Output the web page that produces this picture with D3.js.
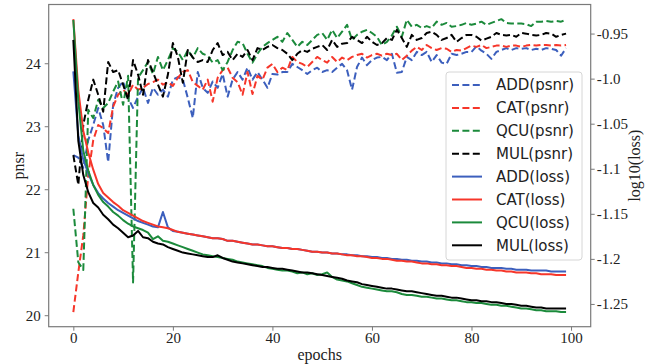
<!DOCTYPE html>
<html>
<head>
<meta charset="utf-8">
<script src="https://cdn.jsdelivr.net/npm/d3@7"></script>
<style>
  body { margin: 0; background: #fff; }
  svg { display: block; }
</style>
</head>
<body>
<div id="chart"></div>
<script>
// psnr per epoch (left axis)
const addPsnr = [22.54, 22.50, 22.34, 22.78, 23.02, 23.29, 23.02, 22.43, 23.34, 23.61,
  23.71, 23.45, 23.29, 23.47, 23.61, 23.37, 23.61, 23.50, 23.58, 23.47,
  23.74, 23.78, 23.74, 23.45, 23.13, 23.86, 23.61, 23.53, 23.71, 23.61,
  23.83, 23.47, 23.74, 23.86, 23.74, 23.93, 23.74, 23.86, 23.74, 23.61,
  23.83, 23.82, 23.86, 23.86, 23.99, 23.94, 23.89, 23.83, 23.89, 23.93,
  23.86, 23.89, 23.86, 23.93, 23.99, 23.89, 23.58, 23.94, 24.09, 23.97,
  24.05, 24.09, 24.10, 24.05, 24.15, 23.85, 23.86, 24.10, 24.05, 24.18,
  24.13, 24.18, 24.02, 24.13, 24.01, 23.99, 24.15, 24.13, 24.15, 24.18,
  24.18, 24.27, 24.20, 24.15, 24.07, 24.18, 24.21, 24.24, 24.21, 24.24,
  24.23, 24.24, 24.21, 24.23, 24.21, 24.24, 24.23, 24.21, 24.12, 24.24];
const catPsnr = [20.05, 20.68, 21.27, 22.23, 22.78, 23.02, 22.97, 22.89, 23.31, 23.50,
  23.58, 23.50, 23.66, 23.58, 23.61, 23.67, 23.70, 23.74, 23.66, 23.70,
  23.64, 23.77, 23.86, 23.89, 23.70, 23.64, 23.58, 23.74, 23.39, 23.77,
  23.89, 23.93, 23.77, 23.70, 23.50, 23.86, 23.51, 23.80, 23.74, 23.93,
  23.99, 23.86, 23.93, 23.89, 24.10, 24.02, 23.99, 23.94, 24.02, 24.10,
  24.05, 24.01, 24.10, 24.02, 24.09, 24.05, 24.10, 24.13, 24.15, 24.09,
  24.13, 24.15, 24.12, 24.15, 24.13, 24.15, 24.05, 24.12, 24.20, 24.26,
  24.21, 24.29, 24.24, 24.21, 24.24, 24.23, 24.18, 24.21, 24.20, 24.24,
  24.28, 24.26, 24.29, 24.24, 24.26, 24.28, 24.28, 24.26, 24.28, 24.28,
  24.26, 24.28, 24.29, 24.28, 24.29, 24.29, 24.28, 24.29, 24.28, 24.29];
const qcuPsnr = [21.69, 20.84, 20.72, 23.26, 23.13, 23.42, 23.29, 23.37, 23.55, 23.71,
  23.34, 23.80, 20.52, 23.77, 23.89, 24.02, 23.83, 24.10, 23.89, 24.05,
  24.24, 24.18, 24.05, 24.21, 24.09, 24.24, 24.15, 24.12, 24.01, 24.05,
  23.89, 24.02, 24.21, 24.34, 24.32, 24.15, 24.01, 24.15, 24.26, 24.32,
  24.37, 24.42, 24.34, 24.48, 24.37, 24.26, 24.34, 24.29, 24.37, 24.45,
  24.48, 24.37, 24.53, 24.40, 24.50, 24.61, 24.37, 24.45, 24.50, 24.53,
  24.48, 24.42, 24.29, 24.34, 24.44, 24.58, 24.42, 24.69, 24.58, 24.61,
  24.56, 24.59, 24.56, 24.66, 24.61, 24.64, 24.58, 24.59, 24.61, 24.64,
  24.61, 24.63, 24.66, 24.61, 24.64, 24.67, 24.70, 24.64, 24.63, 24.63,
  24.63, 24.62, 24.59, 24.66, 24.66, 24.67, 24.66, 24.67, 24.66, 24.69];
const mulPsnr = [22.54, 22.07, 23.02, 23.42, 23.74, 23.50, 23.23, 24.02, 23.86, 23.89,
  23.66, 23.42, 24.05, 23.82, 23.50, 24.05, 23.86, 23.66, 23.47, 23.82,
  24.32, 24.10, 23.69, 24.21, 24.09, 24.02, 24.05, 24.02, 24.21, 24.32,
  24.13, 24.18, 24.05, 24.15, 24.10, 24.21, 24.05, 24.24, 24.21, 24.26,
  24.29, 24.24, 24.21, 24.15, 24.05, 24.15, 24.21, 24.18, 24.23, 24.26,
  24.29, 24.21, 24.37, 24.26, 24.31, 24.32, 24.42, 24.37, 24.32, 24.42,
  24.34, 24.29, 24.32, 24.40, 24.37, 24.53, 24.40, 24.26, 24.45, 24.37,
  24.40, 24.48, 24.50, 24.45, 24.37, 24.40, 24.45, 24.34, 24.40, 24.45,
  24.45, 24.42, 24.36, 24.39, 24.42, 24.48, 24.45, 24.44, 24.45, 24.42,
  24.48, 24.47, 24.45, 24.44, 24.45, 24.48, 24.47, 24.42, 24.45, 24.47];

// log10(loss) per epoch (right axis)
const addLoss = [-0.992, -1.063, -1.090, -1.105, -1.118, -1.127, -1.133, -1.138, -1.142, -1.146,
  -1.149, -1.152, -1.155, -1.158, -1.160, -1.162, -1.164, -1.165, -1.148, -1.165,
  -1.169, -1.170, -1.171, -1.172, -1.173, -1.174, -1.175, -1.176, -1.177, -1.177,
  -1.178, -1.180, -1.180, -1.181, -1.182, -1.183, -1.184, -1.184, -1.185, -1.186,
  -1.186, -1.187, -1.188, -1.188, -1.189, -1.189, -1.190, -1.191, -1.192, -1.192,
  -1.193, -1.193, -1.194, -1.194, -1.195, -1.195, -1.196, -1.196, -1.197, -1.197,
  -1.198, -1.198, -1.199, -1.199, -1.200, -1.200, -1.201, -1.201, -1.202, -1.202,
  -1.203, -1.203, -1.204, -1.204, -1.205, -1.205, -1.206, -1.206, -1.207, -1.207,
  -1.208, -1.208, -1.209, -1.209, -1.210, -1.210, -1.210, -1.211, -1.211, -1.212,
  -1.212, -1.212, -1.213, -1.213, -1.213, -1.213, -1.214, -1.214, -1.214, -1.214];
const catLoss = [-0.934, -1.013, -1.058, -1.082, -1.101, -1.117, -1.127, -1.132, -1.137, -1.141,
  -1.146, -1.149, -1.152, -1.155, -1.158, -1.160, -1.162, -1.164, -1.165, -1.166,
  -1.168, -1.170, -1.171, -1.172, -1.173, -1.174, -1.175, -1.176, -1.177, -1.177,
  -1.178, -1.180, -1.180, -1.181, -1.182, -1.183, -1.184, -1.184, -1.185, -1.186,
  -1.186, -1.187, -1.188, -1.188, -1.189, -1.189, -1.190, -1.191, -1.192, -1.192,
  -1.193, -1.193, -1.194, -1.194, -1.195, -1.196, -1.196, -1.197, -1.197, -1.198,
  -1.199, -1.199, -1.200, -1.200, -1.201, -1.202, -1.202, -1.203, -1.203, -1.204,
  -1.205, -1.205, -1.206, -1.206, -1.207, -1.207, -1.208, -1.208, -1.209, -1.210,
  -1.210, -1.211, -1.211, -1.212, -1.212, -1.213, -1.213, -1.214, -1.214, -1.215,
  -1.215, -1.215, -1.216, -1.216, -1.217, -1.217, -1.217, -1.218, -1.218, -1.218];
const qcuLoss = [-0.935, -1.025, -1.080, -1.102, -1.118, -1.129, -1.137, -1.142, -1.148, -1.152,
  -1.157, -1.161, -1.164, -1.166, -1.168, -1.171, -1.178, -1.175, -1.180, -1.181,
  -1.183, -1.185, -1.187, -1.189, -1.191, -1.193, -1.195, -1.196, -1.197, -1.198,
  -1.199, -1.200, -1.201, -1.203, -1.204, -1.205, -1.206, -1.207, -1.208, -1.210,
  -1.211, -1.212, -1.213, -1.213, -1.214, -1.216, -1.215, -1.217, -1.216, -1.218,
  -1.217, -1.215, -1.220, -1.223, -1.224, -1.225, -1.227, -1.229, -1.231, -1.232,
  -1.233, -1.234, -1.235, -1.236, -1.236, -1.237, -1.239, -1.240, -1.240, -1.241,
  -1.242, -1.242, -1.243, -1.244, -1.244, -1.245, -1.246, -1.246, -1.247, -1.248,
  -1.248, -1.249, -1.249, -1.250, -1.251, -1.251, -1.252, -1.252, -1.253, -1.254,
  -1.255, -1.255, -1.256, -1.257, -1.257, -1.258, -1.258, -1.258, -1.259, -1.259];
const mulLoss = [-0.957, -1.069, -1.107, -1.126, -1.138, -1.143, -1.151, -1.156, -1.162, -1.166,
  -1.171, -1.176, -1.174, -1.169, -1.176, -1.177, -1.181, -1.183, -1.184, -1.187,
  -1.189, -1.191, -1.193, -1.194, -1.195, -1.196, -1.197, -1.198, -1.198, -1.196,
  -1.199, -1.201, -1.203, -1.204, -1.205, -1.206, -1.207, -1.208, -1.209, -1.209,
  -1.210, -1.211, -1.211, -1.212, -1.213, -1.214, -1.215, -1.215, -1.216, -1.217,
  -1.218, -1.219, -1.220, -1.221, -1.222, -1.224, -1.225, -1.226, -1.228, -1.229,
  -1.230, -1.231, -1.232, -1.233, -1.233, -1.234, -1.235, -1.236, -1.236, -1.237,
  -1.238, -1.239, -1.240, -1.241, -1.241, -1.242, -1.243, -1.243, -1.244, -1.245,
  -1.246, -1.246, -1.247, -1.247, -1.248, -1.248, -1.249, -1.250, -1.250, -1.251,
  -1.252, -1.252, -1.253, -1.254, -1.254, -1.255, -1.255, -1.255, -1.255, -1.255];

const xTicks = [0, 20, 40, 60, 80, 100];
const leftTicks = [20, 21, 22, 23, 24];
const rightTicks = [-0.95, -1.0, -1.05, -1.1, -1.15, -1.2, -1.25];
const rightTickLabels = ['-0.95', '-1.0', '-1.05', '-1.1', '-1.15', '-1.2', '-1.25'];

const colors = { ADD: '#3c5fbd', CAT: '#f6362a', QCU: '#1b8a3b', MUL: '#000000' };

const psnrSeries = [
  { name: 'ADD(psnr)', key: 'ADD', values: addPsnr },
  { name: 'CAT(psnr)', key: 'CAT', values: catPsnr },
  { name: 'QCU(psnr)', key: 'QCU', values: qcuPsnr },
  { name: 'MUL(psnr)', key: 'MUL', values: mulPsnr },
];
const lossSeries = [
  { name: 'ADD(loss)', key: 'ADD', values: addLoss },
  { name: 'CAT(loss)', key: 'CAT', values: catLoss },
  { name: 'QCU(loss)', key: 'QCU', values: qcuLoss },
  { name: 'MUL(loss)', key: 'MUL', values: mulLoss },
];

const W = 655, H = 364;
const plot = { left: 48.7, right: 590.7, top: 4.5, bottom: 326.7 };
const serif = '"Liberation Serif", "Times New Roman", serif';
const sans = '"DejaVu Sans", sans-serif';
const frameColor = '#7a7a7a';

// matplotlib-style 5% padding around the data
function padded(arrays) {
  const lo = d3.min(arrays, a => d3.min(a));
  const hi = d3.max(arrays, a => d3.max(a));
  const m = (hi - lo) * 0.05;
  return [lo - m, hi + m];
}

const x = d3.scaleLinear().domain(padded([[0, addPsnr.length - 1]])).range([plot.left, plot.right]);
const yL = d3.scaleLinear().domain(padded(psnrSeries.map(s => s.values))).range([plot.bottom, plot.top]);
const yR = d3.scaleLinear().domain(padded(lossSeries.map(s => s.values))).range([plot.bottom, plot.top]);

const svg = d3.select('#chart').append('svg').attr('width', W).attr('height', H);
svg.append('rect').attr('width', W).attr('height', H).attr('fill', '#fff');

const lineL = d3.line().x((d, i) => x(i)).y(d => yL(d));
const lineR = d3.line().x((d, i) => x(i)).y(d => yR(d));

svg.append('g').selectAll('path')
  .data(psnrSeries)
  .join('path')
  .attr('d', d => lineL(d.values))
  .attr('fill', 'none')
  .attr('stroke', d => colors[d.key])
  .attr('stroke-width', 2)
  .attr('stroke-dasharray', '7,3.4')
  .attr('stroke-linejoin', 'round');

svg.append('g').selectAll('path')
  .data(lossSeries)
  .join('path')
  .attr('d', d => lineR(d.values))
  .attr('fill', 'none')
  .attr('stroke', d => colors[d.key])
  .attr('stroke-width', 2)
  .attr('stroke-linejoin', 'round');

// frame
svg.append('rect')
  .attr('x', plot.left).attr('y', plot.top)
  .attr('width', plot.right - plot.left).attr('height', plot.bottom - plot.top)
  .attr('fill', 'none').attr('stroke', frameColor).attr('stroke-width', 1.2);

function styleAxis(g) {
  g.select('.domain').remove();
  g.selectAll('.tick line').attr('stroke', frameColor).attr('stroke-width', 1);
  g.selectAll('.tick text').attr('fill', '#222').attr('font-family', serif).attr('font-size', 15);
}

svg.append('g')
  .attr('transform', `translate(0,${plot.bottom})`)
  .call(d3.axisBottom(x).tickValues(xTicks).tickSize(4).tickPadding(2).tickFormat(d3.format('d')))
  .call(styleAxis);

svg.append('g')
  .attr('transform', `translate(${plot.left},0)`)
  .call(d3.axisLeft(yL).tickValues(leftTicks).tickSize(4).tickPadding(4).tickFormat(d3.format('d')))
  .call(styleAxis);

svg.append('g')
  .attr('transform', `translate(${plot.right},0)`)
  .call(d3.axisRight(yR).tickValues(rightTicks).tickSize(4).tickPadding(2)
    .tickFormat((d, i) => rightTickLabels[i]))
  .call(styleAxis);

const midY = (plot.top + plot.bottom) / 2;
svg.append('text')
  .attr('x', (plot.left + plot.right) / 2).attr('y', 360)
  .attr('text-anchor', 'middle')
  .attr('font-family', serif).attr('font-size', 16).attr('fill', '#222')
  .text('epochs');
svg.append('text')
  .attr('transform', `translate(24,${midY}) rotate(-90)`)
  .attr('text-anchor', 'middle')
  .attr('font-family', serif).attr('font-size', 16).attr('fill', '#222')
  .text('pnsr');
svg.append('text')
  .attr('transform', `translate(640,${midY}) rotate(-90)`)
  .attr('text-anchor', 'middle')
  .attr('font-family', serif).attr('font-size', 16).attr('fill', '#222')
  .text('log10(loss)');

// legend
const legendItems = psnrSeries.map(s => ({ ...s, dashed: true }))
  .concat(lossSeries.map(s => ({ ...s, dashed: false })));
const legend = svg.append('g').attr('transform', 'translate(446,72)');
legend.append('rect')
  .attr('width', 136).attr('height', 188).attr('rx', 3)
  .attr('fill', '#fff').attr('fill-opacity', 0.85)
  .attr('stroke', '#d6d6d6').attr('stroke-width', 1);
const item = legend.selectAll('g.item')
  .data(legendItems)
  .join('g')
  .attr('class', 'item')
  .attr('transform', (d, i) => `translate(0,${13 + i * 22.9})`);
item.append('line')
  .attr('x1', 6).attr('x2', 36).attr('y1', 0).attr('y2', 0)
  .attr('stroke', d => colors[d.key]).attr('stroke-width', 2)
  .attr('stroke-dasharray', d => d.dashed ? '7,3.4' : null);
item.append('text')
  .attr('x', 50).attr('y', 0).attr('dy', '0.36em')
  .attr('font-family', sans).attr('font-size', 15).attr('fill', '#222')
  .text(d => d.name);
</script>
</body>
</html>
